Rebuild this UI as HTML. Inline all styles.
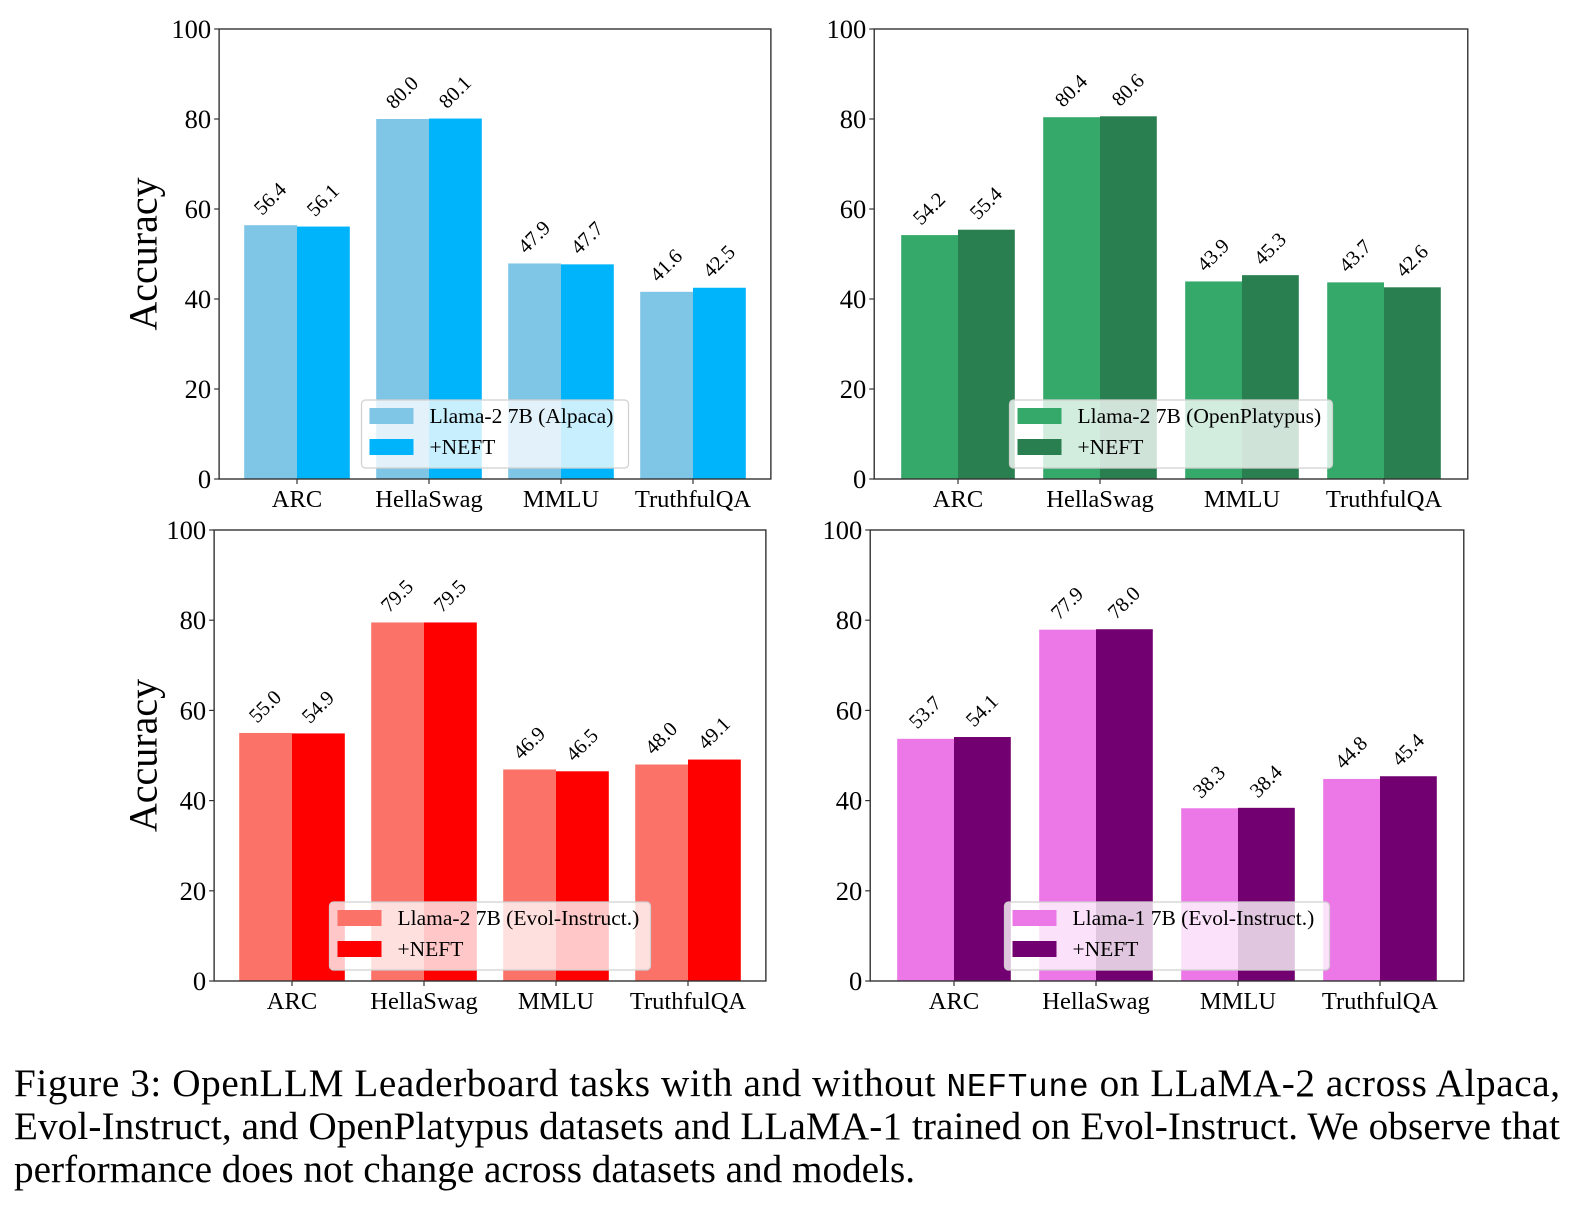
<!DOCTYPE html>
<html><head><meta charset="utf-8"><style>
body{margin:0;background:#fff;width:1586px;height:1207px;overflow:hidden;position:relative}
svg{position:absolute;left:0;top:0}
</style></head><body>
<svg id="chart" width="1586" height="1207">
<g font-family="'Liberation Serif', serif" font-size="39.2" fill="#000">
<text x="14" y="1096" textLength="1546" lengthAdjust="spacing">Figure 3: OpenLLM Leaderboard tasks with and without <tspan font-family="'Liberation Mono', monospace" font-size="33">NEFTune</tspan> on LLaMA-2 across Alpaca,</text>
<text x="14" y="1139" textLength="1546" lengthAdjust="spacing">Evol-Instruct, and OpenPlatypus datasets and LLaMA-1 trained on Evol-Instruct. We observe that</text>
<text x="14" y="1182">performance does not change across datasets and models.</text>
</g>
</svg>
<script>
const categories = ["ARC","HellaSwag","MMLU","TruthfulQA"];
const yTicks = [0,20,40,60,80,100];
const alpacaBase = [56.4,80.0,47.9,41.6];
const alpacaNeft = [56.1,80.1,47.7,42.5];
const platypusBase = [54.2,80.4,43.9,43.7];
const platypusNeft = [55.4,80.6,45.3,42.6];
const evol2Base = [55.0,79.5,46.9,48.0];
const evol2Neft = [54.9,79.5,46.5,49.1];
const evol1Base = [53.7,77.9,38.3,44.8];
const evol1Neft = [54.1,78.0,38.4,45.4];
const baseLabels = ["Llama-2 7B (Alpaca)","Llama-2 7B (OpenPlatypus)","Llama-2 7B (Evol-Instruct.)","Llama-1 7B (Evol-Instruct.)"];

const NS="http://www.w3.org/2000/svg";
const svg=document.getElementById('chart');
function mk(tag,attrs,parent){const e=document.createElementNS(NS,tag);for(const k in attrs)e.setAttribute(k,attrs[k]);(parent||svg).appendChild(e);return e;}

const panels=[
 {c0:297,u:132,top:29,bot:479,base:alpacaBase,neft:alpacaNeft,cb:"#7fc5e6",cn:"#00b4fb",label:baseLabels[0],lw:267,ylab:true,name:"alpaca"},
 {c0:958,u:142,top:29,bot:479,base:platypusBase,neft:platypusNeft,cb:"#35a96a",cn:"#2a7f50",label:baseLabels[1],lw:323,ylab:false,name:"openplatypus"},
 {c0:292,u:132,top:530,bot:981,base:evol2Base,neft:evol2Neft,cb:"#fa7268",cn:"#ff0000",label:baseLabels[2],lw:321,ylab:true,name:"evol-llama2"},
 {c0:954,u:142,top:530,bot:981,base:evol1Base,neft:evol1Neft,cb:"#ec77e7",cn:"#730070",label:baseLabels[3],lw:325,ylab:false,name:"evol-llama1"}
];
const F='"Liberation Serif", serif';
panels.forEach(p=>{
  const g=mk('g',{});
  
  
  const left=p.c0-0.59*p.u, right=p.c0+3.59*p.u;
  const xs=i=>p.c0+i*p.u;
  const ys=v=>p.bot-(v/100)*(p.bot-p.top);
  const bw=0.4*p.u;
  [[p.base,p.cb,-1,'base'],[p.neft,p.cn,0,'neft']].forEach(([arr,col,off,nm])=>{
    arr.forEach((v,i)=>{
      const x=xs(i)+off*bw;
      const r=mk('rect',{x:x,y:ys(v),width:bw,height:ys(0)-ys(v),fill:col},g);
      
      
      const cx=x+bw/2, cy=ys(v)-26;
      const t=mk('text',{x:cx,y:cy,'text-anchor':'middle','dominant-baseline':'central','font-family':F,'font-size':20.5,transform:`rotate(-45 ${cx} ${cy})`},g);
      t.textContent=v.toFixed(1);
      
      
    });
  });
  const lx=(left+right)/2-p.lw/2, ly=p.bot-11-68;
  const lg=mk('g',{},g);
  
  
  mk('rect',{x:lx,y:ly,width:p.lw,height:68,rx:4,fill:'rgba(255,255,255,0.78)',stroke:'#d0d0d0','stroke-width':1.2},lg);
  [[p.cb,p.label,16],[p.cn,'+NEFT',47]].forEach(([c,txt,dy])=>{
    mk('rect',{x:lx+8,y:ly+dy-8,width:44,height:16,fill:c},lg);
    const t=mk('text',{x:lx+68,y:ly+dy+7,'font-family':F,'font-size':21.5},lg);
    t.textContent=txt;
    
    
  });
  mk('rect',{x:left,y:p.top,width:right-left,height:p.bot-p.top,fill:'none',stroke:'#333','stroke-width':1.4},g);
  yTicks.forEach(v=>{
    mk('line',{x1:left-5,x2:left,y1:ys(v),y2:ys(v),stroke:'#333','stroke-width':1.2},g);
    const t=mk('text',{x:left-8,y:ys(v)+9,'text-anchor':'end','font-family':F,'font-size':26.5},g);
    t.textContent=v;
    
    
  });
  categories.forEach((c,i)=>{
    mk('line',{x1:xs(i),x2:xs(i),y1:p.bot,y2:p.bot+5,stroke:'#333','stroke-width':1.2},g);
    const t=mk('text',{x:xs(i),y:p.bot+28,'text-anchor':'middle','font-family':F,'font-size':24.5},g);
    t.textContent=c;
    
    
  });
  if(p.ylab){
    const cy=(p.top+p.bot)/2, cx=143;
    const t=mk('text',{x:cx,y:cy,'text-anchor':'middle','dominant-baseline':'central','font-family':F,'font-size':40,transform:`rotate(-90 ${cx} ${cy})`},g);
    t.textContent='Accuracy';
    
    
  }
});
</script>
</body></html>
